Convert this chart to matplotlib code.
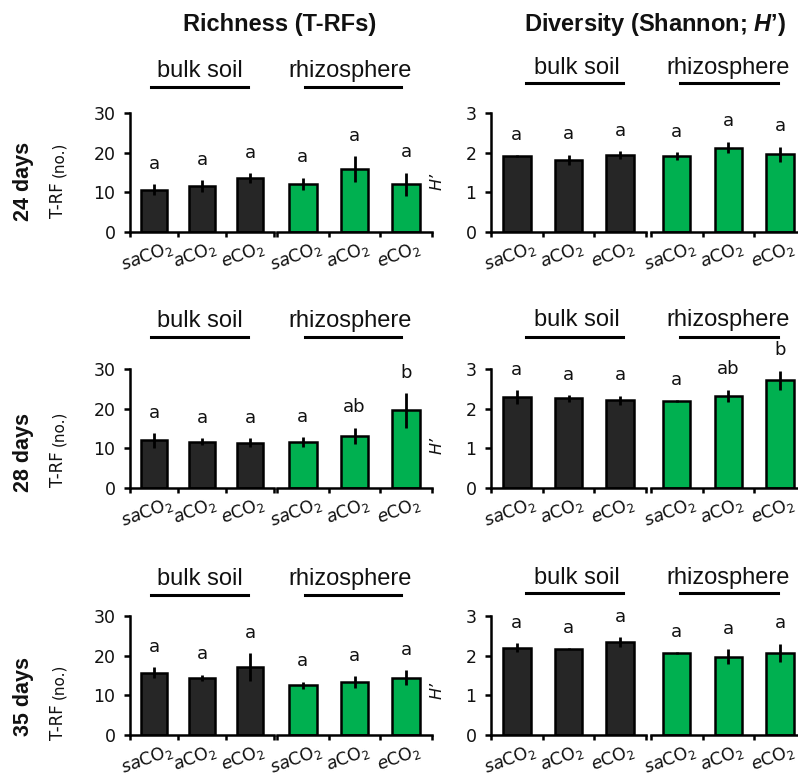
import matplotlib
matplotlib.use("Agg")
import matplotlib.pyplot as plt
from matplotlib.transforms import ScaledTranslation
import numpy as np

plt.rcParams["mathtext.fontset"] = "custom"
plt.rcParams["mathtext.rm"] = "DejaVu Sans"
plt.rcParams["mathtext.it"] = "DejaVu Sans:italic"
plt.rcParams["mathtext.bf"] = "Liberation Sans:bold"
plt.rcParams["mathtext.bfit"] = "Liberation Sans:italic:bold"

W, H, DPI = 798, 778, 100

# ---- data -------------------------------------------------------------
days = ["24 days", "28 days", "35 days"]
treatments = [r"$\mathit{sa}\mathrm{CO}_2$", r"$\mathit{a}\mathrm{CO}_2$", r"$\mathit{e}\mathrm{CO}_2$"]
compartments = ["bulk soil", "rhizosphere"]

# Richness: number of T-RFs (rows = sampling day, cols = saCO2, aCO2, eCO2)
richness_bulk = [[10.7, 11.5, 13.6], [12.0, 11.7, 11.4], [15.7, 14.4, 17.1]]
richness_bulk_err = [[1.3, 1.5, 1.2], [1.85, 0.9, 1.1], [1.35, 0.8, 3.6]]
richness_rhizo = [[12.1, 15.9, 12.1], [11.6, 13.2, 19.6], [12.5, 13.3, 14.4]]
richness_rhizo_err = [[1.6, 3.2, 2.9], [1.25, 2.0, 4.4], [0.95, 1.45, 1.9]]

# Diversity: Shannon index H'
diversity_bulk = [[1.92, 1.82, 1.94], [2.30, 2.26, 2.21], [2.20, 2.18, 2.34]]
diversity_bulk_err = [[0.02, 0.13, 0.09], [0.17, 0.08, 0.12], [0.12, 0.01, 0.12]]
diversity_rhizo = [[1.92, 2.13, 1.96], [2.20, 2.33, 2.72], [2.06, 1.97, 2.07]]
diversity_rhizo_err = [[0.10, 0.15, 0.19], [0.02, 0.15, 0.24], [0.02, 0.19, 0.23]]

# significance letters
richness_bulk_letters = [["a", "a", "a"], ["a", "a", "a"], ["a", "a", "a"]]
richness_rhizo_letters = [["a", "a", "a"], ["a", "ab", "b"], ["a", "a", "a"]]
diversity_bulk_letters = [["a", "a", "a"], ["a", "a", "a"], ["a", "a", "a"]]
diversity_rhizo_letters = [["a", "a", "a"], ["a", "ab", "b"], ["a", "a", "a"]]

richness_ticks = [0, 10, 20, 30]
diversity_ticks = [0, 1, 2, 3]

# ---- style ------------------------------------------------------------
BULK_COLOR = "#262626"
RHIZO_COLOR = "#00B050"
TXT = "#111111"
HEAD_FONT = "Liberation Sans"
CHART_FONT = "DejaVu Sans"
LW = 1.8

fig = plt.figure(figsize=(W / DPI, H / DPI), dpi=DPI)


def px_axes(x0, x1, ytop, ybot):
    return fig.add_axes([x0 / W, 1 - ybot / H, (x1 - x0) / W, (ybot - ytop) / H])


def fx(x):
    return x / W


def fy(y):
    return 1 - y / H


rows_px = [(113, 232), (369, 488), (616, 735)]
# (x0, x1, xmax) for bulk / rhizosphere halves of each panel
panels_px = [
    [(130, 274, 3.0), (277, 432, 3.0)],
    [(491, 646, 3.0), (651, 798, 2.85)],
]

panel_data = [
    (richness_bulk, richness_bulk_err, richness_bulk_letters,
     richness_rhizo, richness_rhizo_err, richness_rhizo_letters, 30, richness_ticks),
    (diversity_bulk, diversity_bulk_err, diversity_bulk_letters,
     diversity_rhizo, diversity_rhizo_err, diversity_rhizo_letters, 3, diversity_ticks),
]

xpos = np.arange(3) + 0.5

for r, (ytop, ybot) in enumerate(rows_px):
    for p, pdata in enumerate(panel_data):
        bm, be, bl, rm, re, rl, ymax, yt = pdata
        for h, (x0, x1, xmax) in enumerate(panels_px[p]):
            ax = px_axes(x0, x1, ytop, ybot)
            vals = (bm if h == 0 else rm)[r]
            errs = (be if h == 0 else re)[r]
            lets = (bl if h == 0 else rl)[r]
            color = BULK_COLOR if h == 0 else RHIZO_COLOR
            ax.bar(xpos, vals, width=0.53, color=color, edgecolor="black",
                   linewidth=LW, zorder=2)
            ax.errorbar(xpos, vals, yerr=errs, fmt="none", ecolor="black",
                        elinewidth=2.0, capsize=0, zorder=3)
            for x, v, e, l in zip(xpos, vals, errs, lets):
                ax.annotate(l, xy=(x, v + e), xytext=(0, 11), textcoords="offset points",
                            ha="center", va="baseline", fontsize=13,
                            family=CHART_FONT, color=TXT)
            ax.set_xlim(0, xmax)
            ax.set_ylim(0, ymax)
            for s in ["top", "right"]:
                ax.spines[s].set_visible(False)
            ax.spines["bottom"].set_linewidth(LW)
            ax.spines["left"].set_linewidth(LW)
            ax.set_xticks([t for t in range(4) if t <= xmax])
            ax.set_xticklabels([])
            ax.tick_params(axis="x", which="major", direction="out", length=3.5,
                           width=LW, color="black")
            ax.set_xticks(xpos, minor=True)
            ax.set_xticklabels(treatments, minor=True, rotation=20, ha="center",
                               fontsize=12.5, family=CHART_FONT, color=TXT)
            ax.tick_params(axis="x", which="minor", length=0, pad=4)
            off = ScaledTranslation(-5 / 72, 0, fig.dpi_scale_trans)
            for lab in ax.get_xticklabels(minor=True):
                lab.set_transform(lab.get_transform() + off)
            if h == 0:
                ax.set_yticks(yt)
                ax.set_yticklabels([str(t) for t in yt], fontsize=12.5,
                                   family=CHART_FONT, color=TXT)
                ax.tick_params(axis="y", direction="out", length=4.5, width=LW, pad=6)
            else:
                ax.spines["left"].set_visible(False)
                ax.set_yticks([])
            ax.patch.set_alpha(0)

# ---- headers -------------------------------------------------------------
fig.text(fx(280), fy(25), "Richness (T-RFs)", ha="center", va="center",
         fontsize=17, fontweight="bold", family=HEAD_FONT, color=TXT)
fig.text(fx(655), fy(25), r"Diversity (Shannon; $\mathbfit{H}$’)", ha="center",
         va="center", fontsize=17, fontweight="bold", family=HEAD_FONT, color=TXT)

# compartment labels with underline: (text center x, line x0, line x1)
comp_left = [(200, 151, 248), (350, 305, 401)]
comp_right = [(577, 526, 623), (728, 680, 778)]
comp_rows = [
    # (left baseline, left line y, right baseline, right line y)
    (77, 87, 74, 83),
    (327, 337, 326, 337),
    (585, 595, 584, 593),
]
for r, (lb, ll, rb, rl_) in enumerate(comp_rows):
    for (cx, lx0, lx1), name in zip(comp_left, compartments):
        fig.text(fx(cx), fy(lb), name, ha="center", va="baseline", fontsize=17,
                 family=HEAD_FONT, color=TXT)
        fig.add_artist(plt.Line2D([fx(lx0), fx(lx1)], [fy(ll), fy(ll)],
                                  color="black", linewidth=2.2))
    for (cx, lx0, lx1), name in zip(comp_right, compartments):
        fig.text(fx(cx), fy(rb), name, ha="center", va="baseline", fontsize=17,
                 family=HEAD_FONT, color=TXT)
        fig.add_artist(plt.Line2D([fx(lx0), fx(lx1)], [fy(rl_), fy(rl_)],
                                  color="black", linewidth=2.2))

# ---- row labels ----------------------------------------------------------
renderer = fig.canvas.get_renderer()
day_centers = [181, 452, 696]
trf_bottoms = [218, 487, 740]
h_centers = [181, 445, 690]
for d, yc, yb, yh in zip(days, day_centers, trf_bottoms, h_centers):
    fig.text(fx(23), fy(yc), d, rotation=90, ha="center", va="center",
             fontsize=15.5, fontweight="bold", family=HEAD_FONT, color=TXT)
    t1 = fig.text(fx(58), fy(yb), "T-RF", rotation=90, ha="center", va="bottom",
                  fontsize=12, family=CHART_FONT, color=TXT)
    top_px = t1.get_window_extent(renderer).y1
    fig.text(fx(58.5), (top_px + 5) / H, "(no.)", rotation=90, ha="center",
             va="bottom", fontsize=11, family=CHART_FONT, color=TXT)
    fig.text(fx(437), fy(yh), "H’", rotation=90, ha="center", va="center",
             fontsize=11.5, style="italic", family=CHART_FONT, color=TXT)

fig.savefig("out.png", dpi=DPI)
